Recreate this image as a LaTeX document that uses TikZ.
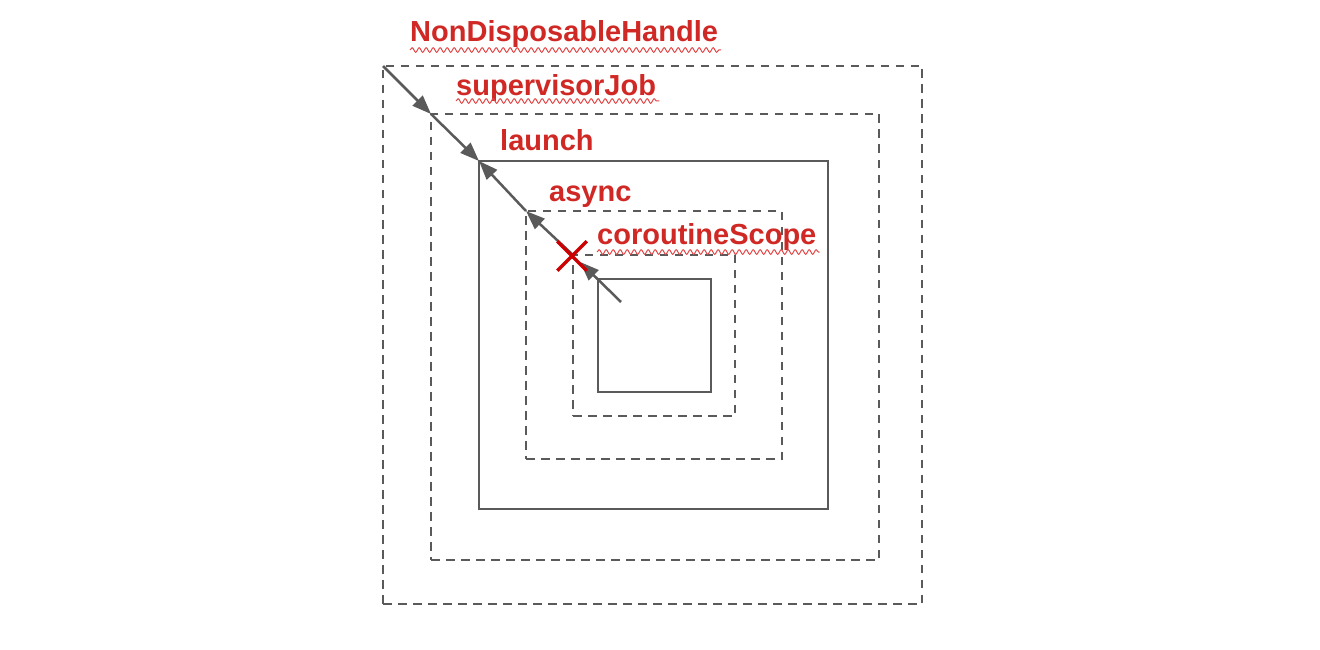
\documentclass[tikz,border=0pt]{standalone}
\usepackage{fontspec}
\setmainfont{Liberation Sans}
\usetikzlibrary{arrows.meta,decorations.pathmorphing,shapes.misc}
\definecolor{boxgray}{RGB}{90,90,90}
\definecolor{lblred}{RGB}{208,40,36}
\definecolor{waveRed}{RGB}{228,70,70}
\definecolor{cutred}{RGB}{204,0,0}
\tikzset{
  frame/.style={draw=boxgray, line width=2.5pt, rectangle, inner sep=0pt, outer sep=0pt, anchor=north west},
  dashframe/.style={frame, dash pattern=on 8.5pt off 6.5pt},
  scopelbl/.style={text=lblred, font=\fontsize{29pt}{34pt}\selectfont\bfseries, inner sep=0pt, anchor=base west},
  wavy/.style={draw=waveRed, line width=1pt, decorate, decoration={snake, amplitude=2.3pt, segment length=7pt}},
  arr/.style={draw=boxgray, line width=2.5pt, -{Triangle[length=19pt,width=14pt]}}
}
\begin{document}
\begin{tikzpicture}[x=1pt,y=-1pt]
\useasboundingbox (0,0) rectangle (1320,650);
% nested scopes
\node[dashframe, minimum width=539pt, minimum height=538pt] (handle) at (383,66) {};
\node[dashframe, minimum width=448pt, minimum height=446pt] (supjob) at (431,114) {};
\node[frame, minimum width=349pt, minimum height=348pt] (launch) at (479,161) {};
\node[dashframe, minimum width=256pt, minimum height=248pt] (async) at (526,211) {};
\node[dashframe, minimum width=162pt, minimum height=161pt] (cscope) at (573,255) {};
\node[frame, minimum width=113pt, minimum height=113pt] (child) at (598,279) {};
\coordinate (start) at (621,302);
% labels
\node[scopelbl] (tHandle) at (410,42) {NonDisposableHandle};
\node[scopelbl] (tSup) at (456,96) {supervisorJob};
\node[scopelbl] (tLaunch) at (500,151) {launch};
\node[scopelbl] (tAsync) at (549,201) {async};
\node[scopelbl] (tScope) at (597,244) {coroutineScope};
\draw[wavy] ([yshift=-8pt]tHandle.base west) -- ([yshift=-8pt,xshift=3pt]tHandle.base east);
\draw[wavy] ([yshift=-5pt]tSup.base west) -- ([yshift=-5pt,xshift=3pt]tSup.base east);
\draw[wavy] ([yshift=-8pt]tScope.base west) -- ([yshift=-8pt,xshift=3pt]tScope.base east);
% cancellation path
\draw[arr] (handle.north west) -- (supjob.north west);
\draw[arr] (supjob.north west) -- (launch.north west);
\draw[arr, shorten >=10pt] (start) -- (cscope.north west);
\draw[arr] (cscope.north west) -- (async.north west);
\draw[arr] (async.north west) -- (launch.north west);
\node[draw=cutred, cross out, line width=3.5pt, minimum size=26pt, inner sep=0pt] (cut) at (572,256) {};
\end{tikzpicture}
\end{document}
